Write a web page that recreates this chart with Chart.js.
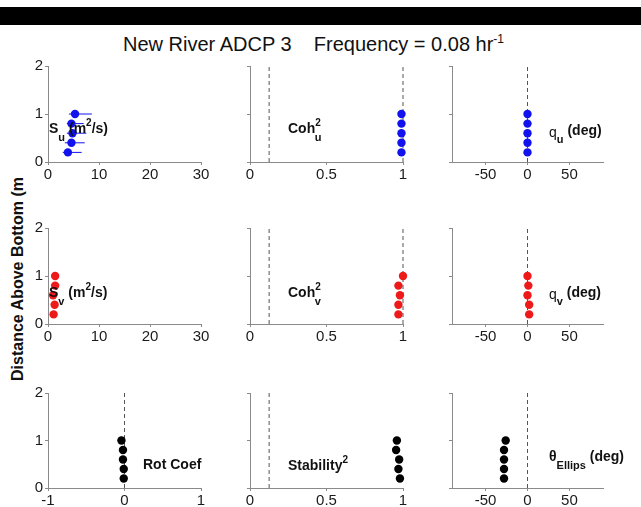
<!DOCTYPE html>
<html><head><meta charset="utf-8">
<script src="https://cdn.jsdelivr.net/npm/chart.js@4/dist/chart.umd.min.js"></script>
<style>
html,body{margin:0;padding:0;background:#fff;}
body{width:641px;height:507px;overflow:hidden;position:relative;font-family:"Liberation Sans",Arial,Helvetica,sans-serif;color:#111;}
#bar{position:absolute;left:0;top:7px;width:641px;height:18px;background:#000;}
#title{position:absolute;left:123px;top:34px;font-size:20px;line-height:1;white-space:pre;color:#111;}
#title sup{font-size:12px;vertical-align:8px;line-height:0;}
#ytitle{position:absolute;left:18px;top:279px;transform:translate(-50%,-50%) rotate(-90deg);font-size:16px;font-weight:bold;white-space:nowrap;line-height:1;color:#111;}
canvas{position:absolute;}
.lbl{position:absolute;font-size:14px;font-weight:bold;line-height:1;white-space:nowrap;color:#111;z-index:5;}
.lbl sub{font-size:11px;vertical-align:-8px;line-height:0;}
.lbl sup{font-size:10px;vertical-align:7px;line-height:0;}
.lbl .q{font-weight:normal;position:relative;top:2px;}
</style>
</head><body>
<div id="bar"></div>
<div id="title">New River ADCP 3    Frequency = 0.08 hr<sup>-1</sup></div>
<div id="ytitle">Distance Above Bottom (m</div>

<div class="lbl" style="left:49px;top:121px;">S<sub>u</sub> (m<sup>2</sup>/s)</div>
<div class="lbl" style="left:288px;top:121px;">Coh<sup>2</sup><sub style="margin-left:-6px">u</sub></div>
<div class="lbl" style="left:549px;top:123px;"><span class="q">q</span><sub>u</sub> (deg)</div>

<div class="lbl" style="left:49px;top:285px;">S<sub>v</sub> (m<sup>2</sup>/s)</div>
<div class="lbl" style="left:288px;top:285px;">Coh<sup>2</sup><sub style="margin-left:-6px">v</sub></div>
<div class="lbl" style="left:549px;top:285px;"><span class="q">q</span><sub>v</sub> (deg)</div>

<div class="lbl" style="left:143px;top:457px;">Rot Coef</div>
<div class="lbl" style="left:288px;top:458px;">Stability<sup>2</sup></div>
<div class="lbl" style="left:549px;top:449px;">θ<sub>Ellips</sub> (deg)</div>

<script>
// ---- data ----
const heights      = [1.0, 0.8, 0.6, 0.4, 0.2];
const suValues     = [5.3, 4.6, 4.8, 4.6, 3.9];
const suLow        = [4.1, 3.7, 3.7, 3.3, 2.9];
const suHigh       = [8.6, 7.0, 7.5, 7.2, 6.6];
const svValues     = [1.4, 1.4, 1.0, 1.3, 1.1];
const coh2u        = [0.99, 0.99, 0.99, 0.99, 0.99];
const coh2v        = [1.0, 0.97, 0.98, 0.97, 0.97];
const thetaU       = [0, 0, 0, 0, 0];
const thetaV       = [0, 1, 0, 2, 2];
const rotCoef      = [-0.04, -0.02, -0.02, -0.01, -0.01];
const stability2   = [0.96, 0.955, 0.975, 0.97, 0.98];
const thetaEllips  = [-26, -28, -28, -28, -28];
const cohSignif    = 0.125;
const refOne       = 1;
const refZero      = 0;
const sTicks       = [0, 10, 20, 30];
const cohTicks     = [0, 0.5, 1];
const degTicks     = [-50, 0, 50];
const rotTicks     = [-1, 0, 1];
const heightTicks  = [0, 1, 2];

const BLUE = '#1212ee', RED = '#ee1a1a', BLACK = '#000000';
const AXIS = '#8a8a8a', DASH = '#555555';
const FONT = '"Liberation Sans", Arial, Helvetica, sans-serif';

function pts(vals, color) {
  return {
    data: heights.map((h, i) => ({x: vals[i], y: h})),
    showLine: false, pointRadius: 4.2, pointHoverRadius: 4.2,
    backgroundColor: color, borderColor: color, borderWidth: 0, clip: false
  };
}
function vline(v) {
  return {
    data: [{x: v, y: heightTicks[0]}, {x: v, y: heightTicks[heightTicks.length - 1]}],
    showLine: true, borderColor: DASH, borderWidth: 1, borderDash: [4, 3],
    pointRadius: 0, clip: false
  };
}
function errBars(vals, lo, hi, color) {
  return heights.map((h, i) => ({
    data: [{x: lo[i], y: h}, {x: hi[i], y: h}],
    showLine: true, borderColor: color, borderWidth: 1, pointRadius: 0, clip: false
  }));
}

function panel(px, py, pw, ph, xMin, xMax, xTicks, yLabels, datasets) {
  const PL = 40, PT = 14, PR = 26, PB = 26;
  const W = pw + PL + PR, H = ph + PT + PB;
  const c = document.createElement('canvas');
  c.width = W; c.height = H;
  c.style.left = (px - PL) + 'px'; c.style.top = (py - PT) + 'px';
  c.style.width = W + 'px'; c.style.height = H + 'px';
  document.body.appendChild(c);
  new Chart(c, {
    type: 'scatter',
    data: {datasets},
    options: {
      responsive: false, animation: false, devicePixelRatio: 1,
      layout: {padding: {left: 0, top: PT, right: PR, bottom: 0}},
      plugins: {legend: {display: false}, tooltip: {enabled: false}},
      scales: {
        x: {
          type: 'linear', position: 'bottom', min: xMin, max: xMax,
          afterBuildTicks: s => { s.ticks = xTicks.map(v => ({value: v})); },
          afterFit: s => { s.height = PB; s.paddingLeft = 0; s.paddingRight = 0; },
          grid: {display: true, drawOnChartArea: false, drawTicks: true, tickLength: 3, color: AXIS},
          border: {display: true, color: AXIS, width: 1},
          ticks: {color: '#1a1a1a', font: {family: FONT, size: 15}, padding: 1, maxRotation: 0, autoSkip: false,
                  callback: v => String(v)}
        },
        y: {
          type: 'linear', position: 'left', min: heightTicks[0], max: heightTicks[heightTicks.length - 1],
          afterBuildTicks: s => { s.ticks = heightTicks.map(v => ({value: v})); },
          afterFit: s => { s.width = PL; s.paddingTop = 0; s.paddingBottom = 0; },
          grid: {display: true, drawOnChartArea: false, drawTicks: true, tickLength: 3, color: AXIS},
          border: {display: true, color: AXIS, width: 1},
          ticks: {color: '#1a1a1a', font: {family: FONT, size: 15}, padding: 2, autoSkip: false,
                  callback: v => yLabels ? String(v) : ''}
        }
      }
    }
  });
}

// geometry of the 3x3 grid (plot-area pixel boxes)
const colX = [48, 250, 452], colW = [153, 153, 151];
const rowY = [66, 228, 393], rowH = [96, 96, 95];

// row 1
panel(colX[0], rowY[0], colW[0], rowH[0], 0, 30, sTicks, true,
  [pts(suValues, BLUE), ...errBars(suValues, suLow, suHigh, BLUE)]);
panel(colX[1], rowY[0], colW[1], rowH[0], 0, 1, cohTicks, false,
  [pts(coh2u, BLUE), vline(cohSignif), vline(refOne)]);
panel(colX[2], rowY[0], colW[2], rowH[0], -90, 90, degTicks, false,
  [pts(thetaU, BLUE), vline(refZero)]);
// row 2
panel(colX[0], rowY[1], colW[0], rowH[1], 0, 30, sTicks, true,
  [pts(svValues, RED)]);
panel(colX[1], rowY[1], colW[1], rowH[1], 0, 1, cohTicks, false,
  [pts(coh2v, RED), vline(cohSignif), vline(refOne)]);
panel(colX[2], rowY[1], colW[2], rowH[1], -90, 90, degTicks, false,
  [pts(thetaV, RED), vline(refZero)]);
// row 3
panel(colX[0], rowY[2], colW[0], rowH[2], -1, 1, rotTicks, true,
  [pts(rotCoef, BLACK), vline(refZero)]);
panel(colX[1], rowY[2], colW[1], rowH[2], 0, 1, cohTicks, false,
  [pts(stability2, BLACK), vline(cohSignif)]);
panel(colX[2], rowY[2], colW[2], rowH[2], -90, 90, degTicks, false,
  [pts(thetaEllips, BLACK), vline(refZero)]);
</script>
</body></html>
